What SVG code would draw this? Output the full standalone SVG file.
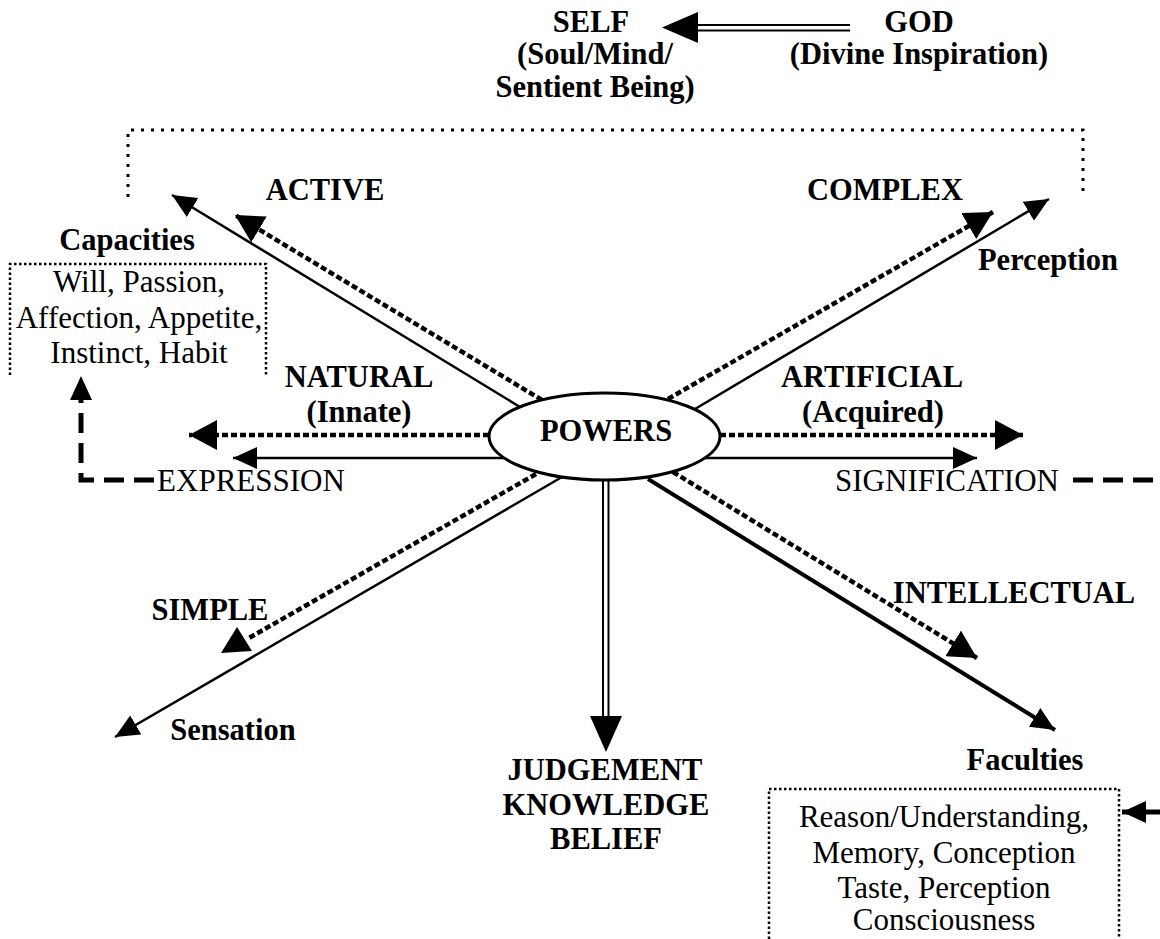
<svg xmlns="http://www.w3.org/2000/svg" width="1160" height="939" viewBox="0 0 1160 939">
  <style>
    .b { font-family: "Liberation Serif", "Times New Roman", serif; font-weight: bold; font-size: 30.5px; fill: #000; text-anchor: middle; }
    .r { font-family: "Liberation Serif", "Times New Roman", serif; font-size: 31px; fill: #000; text-anchor: middle; }
    .solid { fill: none; stroke: #000; stroke-width: 2.5; }
    .heavy { fill: none; stroke: #000; stroke-width: 4; }
    .dots { fill: none; stroke: #000; stroke-width: 4.5; stroke-dasharray: 6 3; }
    .dash { fill: none; stroke: #000; stroke-width: 5; stroke-dasharray: 20 10; }
    .frame { fill: none; stroke: #000; stroke-width: 2.5; stroke-dasharray: 2.5 2.5; }
    .bracket { fill: none; stroke: #000; stroke-width: 3; stroke-dasharray: 3 7; }
    .rail { fill: none; stroke: #000; stroke-width: 2; }
    .head { fill: #000; stroke: none; }
  </style>
  <defs>
    <marker id="tip" markerUnits="userSpaceOnUse" viewBox="0 0 24 22" markerWidth="24" markerHeight="22" refX="24" refY="11" orient="auto">
      <path d="M0,0 L24,11 L0,22 Z" fill="#000"/>
    </marker>
    <marker id="tip-big" markerUnits="userSpaceOnUse" viewBox="0 0 28 30" markerWidth="28" markerHeight="30" refX="28" refY="15" orient="auto">
      <path d="M0,0 L28,15 L0,30 Z" fill="#000"/>
    </marker>
  </defs>

  <!-- connectors -->
  <g id="connectors">
    <!-- divine inspiration into the self -->
    <line class="rail" x1="696" y1="25" x2="850" y2="25"/>
    <line class="rail" x1="696" y1="30.5" x2="850" y2="30.5"/>
    <polygon class="head" points="662,27.5 698,12 698,43"/>

    <!-- dotted bracket spanning ACTIVE .. COMPLEX -->
    <path class="bracket" d="M128,197 L128,130 L1083,130 L1083,197"/>

    <!-- solid rays -->
    <line class="solid" x1="520" y1="407" x2="172" y2="195" marker-end="url(#tip)"/>
    <line class="solid" x1="695" y1="409" x2="1049" y2="199" marker-end="url(#tip)"/>
    <line class="solid" x1="505" y1="458" x2="233" y2="458" marker-end="url(#tip)"/>
    <line class="solid" x1="705" y1="458" x2="977" y2="458" marker-end="url(#tip)"/>
    <line class="solid" x1="562" y1="477" x2="115" y2="737" marker-end="url(#tip)"/>
    <line class="heavy" x1="648" y1="479" x2="1055" y2="730" marker-end="url(#tip)"/>

    <!-- dotted rays -->
    <line class="dots" x1="542" y1="400" x2="235" y2="215" marker-end="url(#tip-big)"/>
    <line class="dots" x1="668" y1="399" x2="993" y2="212" marker-end="url(#tip-big)"/>
    <line class="dots" x1="489" y1="435" x2="189" y2="435" marker-end="url(#tip-big)"/>
    <line class="dots" x1="720" y1="435" x2="1023" y2="435" marker-end="url(#tip-big)"/>
    <line class="dots" x1="673" y1="472" x2="977" y2="658" marker-end="url(#tip-big)"/>
    <line class="dots" x1="536" y1="474" x2="249" y2="638"/>
    <polygon class="head" points="237,627 221,653 252,651"/>

    <!-- judgement / knowledge / belief -->
    <line class="rail" x1="603" y1="480" x2="603" y2="718"/>
    <line class="rail" x1="608.5" y1="480" x2="608.5" y2="718"/>
    <polygon class="head" points="590,716 622,716 606,752"/>

    <!-- expression back to capacities -->
    <path class="dash" d="M154,480 L81,480 L81,376" marker-end="url(#tip)"/>
    <!-- signification out to the faculties -->
    <line class="dash" x1="1073" y1="480" x2="1160" y2="480"/>
    <line class="heavy" x1="1160" y1="812" x2="1122" y2="812" marker-end="url(#tip)" style="stroke-width:5"/>
  </g>

  <g id="self">
    <text class="b" x="591" y="32">SELF</text>
    <text class="b" x="595" y="64">(Soul/Mind/</text>
    <text class="b" x="595" y="97">Sentient Being)</text>
  </g>

  <g id="god">
    <text class="b" x="919" y="32">GOD</text>
    <text class="b" x="919" y="64">(Divine Inspiration)</text>
  </g>

  <g id="active"><text class="b" x="325" y="200">ACTIVE</text></g>
  <g id="complex"><text class="b" x="885" y="200">COMPLEX</text></g>

  <g id="capacities">
    <text class="b" x="127" y="250">Capacities</text>
    <path class="frame" d="M10,375 L10,264 L266,264 L266,375"/>
    <text class="r" x="139" y="292">Will, Passion,</text>
    <text class="r" x="139" y="328">Affection, Appetite,</text>
    <text class="r" x="139" y="363">Instinct, Habit</text>
  </g>

  <g id="perception"><text class="b" x="1048" y="270">Perception</text></g>

  <g id="natural">
    <text class="b" x="359" y="387">NATURAL</text>
    <text class="b" x="359" y="422">(Innate)</text>
  </g>

  <g id="artificial">
    <text class="b" x="872" y="387">ARTIFICIAL</text>
    <text class="b" x="873" y="422">(Acquired)</text>
  </g>

  <g id="powers">
    <ellipse cx="604.5" cy="436.5" rx="115.5" ry="43.5" fill="#fff" stroke="#000" stroke-width="3"/>
    <text class="b" x="606" y="441">POWERS</text>
  </g>

  <g id="expression"><text class="r" x="251" y="491">EXPRESSION</text></g>
  <g id="signification"><text class="r" x="947" y="491">SIGNIFICATION</text></g>

  <g id="simple"><text class="b" x="210" y="620">SIMPLE</text></g>
  <g id="sensation"><text class="b" x="233" y="740">Sensation</text></g>
  <g id="intellectual"><text class="b" x="1014" y="603">INTELLECTUAL</text></g>

  <g id="judgement">
    <text class="b" x="605" y="780">JUDGEMENT</text>
    <text class="b" x="606" y="815">KNOWLEDGE</text>
    <text class="b" x="606" y="849">BELIEF</text>
  </g>

  <g id="faculties">
    <text class="b" x="1025" y="770">Faculties</text>
    <path class="frame" d="M769,939 L769,789 L1119,789 L1119,939"/>
    <text class="r" x="944" y="827">Reason/Understanding,</text>
    <text class="r" x="944" y="863">Memory, Conception</text>
    <text class="r" x="944" y="898">Taste, Perception</text>
    <text class="r" x="944" y="930">Consciousness</text>
  </g>
</svg>
